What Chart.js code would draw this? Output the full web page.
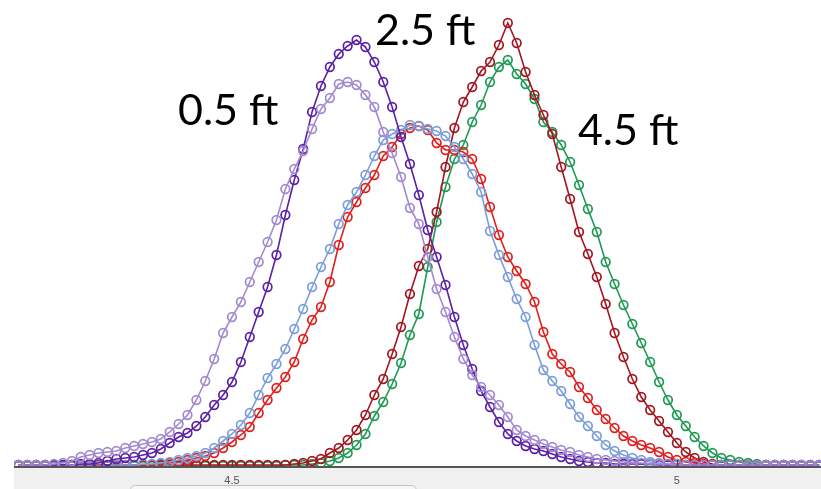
<!DOCTYPE html>
<html>
<head>
<meta charset="utf-8">
<script src="https://cdn.jsdelivr.net/npm/chart.js@4.4.1/dist/chart.umd.min.js"></script>
<style>
  html, body { margin: 0; padding: 0; background: #ffffff; overflow: hidden; }
  #wrap { position: relative; width: 821px; height: 489px; }
</style>
</head>
<body>
<div id="wrap"><canvas id="c"></canvas></div>
<script>
// ---- data ----
const xValues = [4.26,4.27,4.28,4.29,4.30,4.31,4.32,4.33,4.34,4.35,
  4.36,4.37,4.38,4.39,4.40,4.41,4.42,4.43,4.44,4.45,
  4.46,4.47,4.48,4.49,4.50,4.51,4.52,4.53,4.54,4.55,
  4.56,4.57,4.58,4.59,4.60,4.61,4.62,4.63,4.64,4.65,
  4.66,4.67,4.68,4.69,4.70,4.71,4.72,4.73,4.74,4.75,
  4.76,4.77,4.78,4.79,4.80,4.81,4.82,4.83,4.84,4.85,
  4.86,4.87,4.88,4.89,4.90,4.91,4.92,4.93,4.94,4.95,
  4.96,4.97,4.98,4.99,5.00,5.01,5.02,5.03,5.04,5.05,
  5.06,5.07,5.08,5.09,5.10,5.11,5.12,5.13,5.14,5.15,5.16];

const seriesNames = ['0.5 ft (a)', '0.5 ft (b)', '2.5 ft (a)', '2.5 ft (b)', '4.5 ft (a)', '4.5 ft (b)'];

const lavender = [2,2,2,2,3, 4,6,10,12,14, 15,16,19,21,23, 25,28,35,43,52,
  67,86,108,134,150, 165,185,205,225,247, 278,298,316,338,358, 369,383,385,382,372,
  360,335,314,290,259, 243,210,178,155,130, 108,92,80,72,62, 50,37,31,27,23,
  20,17,15,12,10, 8,7,6,5,4, 4,3,3,3,2, 2,2,2,2,2, 2,2,2,2,2, 2,2,2,2,2,2];

const darkPurple = [2,2,2,2,2, 2,2,3,3,4, 6,8,9,10,12, 14,18,24,30,34,
  41,50,62,72,85, 105,130,155,180,212, 252,287,318,355,381, 400,413,421,427,420,
  405,385,360,330,303, 272,237,210,182,150, 122,98,76,60,45, 33,26,21,18,16,
  13,10,8,6,5, 4,4,3,3,3, 3,3,2,2,2, 2,2,2,2,2, 2,2,2,2,2, 2,2,2,2,2,2];

const lightBlue = [1,1,1,1,1, 1,1,1,1,1, 1,2,2,2,3, 3,4,5,7,9,
  11,14,19,26,33, 42,54,72,89,103, 118,138,158,180,200, 218,243,262,275,292,
  311,327,333,337,342, 341,338,336,331,320, 308,293,275,236,212, 190,168,150,122,97,
  86,76,63,50,41, 31,22,16,12,9, 7,5,4,3,3, 2,2,2,2,2, 2,2,1,1,1, 1,1,1,1,1,1];

const red = [1,1,1,1,1, 1,1,1,1,1, 1,1,1,2,2, 2,3,4,5,7,
  9,11,14,19,25, 32,40,54,67,79, 90,105,128,147,160, 185,222,250,265,279,
  292,311,320,333,339, 341,337,324,317,317, 315,308,288,260,232, 210,196,183,165,135,
  113,103,95,80,69, 57,48,39,31,26, 22,19,15,10,7, 5,4,3,2,2, 2,2,1,1,1, 1,1,1,1,1,1];

const darkRed = [2,2,2,2,2, 2,2,2,2,2, 2,2,2,2,2, 2,2,2,2,2,
  2,2,2,2,2, 2,2,2,2,2, 2,3,4,6,8, 14,19,27,37,52,
  72,88,113,140,173, 201,218,255,300,339, 365,380,396,405,422, 444,424,395,372,352,
  333,300,268,235,213, 190,163,134,110,88, 70,57,46,35,24, 15,9,5,3,2, 2,2,2,2,2, 2,2,2,2,2,2];

const green = [1,1,1,1,1, 1,1,1,1,1, 1,1,1,1,1, 1,1,1,1,1,
  1,1,1,1,1, 1,1,1,1,1, 2,2,2,3,4, 6,9,14,22,33,
  51,65,83,104,132, 153,200,245,280,308, 322,345,362,385,400, 407,393,383,368,345,
  335,322,305,282,258, 235,205,183,162,143, 124,105,85,67,52, 41,30,21,14,9,
  7,5,4,3,2, 2,2,1,1,1,1];

const tickValues = [4.5, 5];
const tickLabels = ['4.5', '5'];

const annotations = [
  { text: '0.5 ft', x: 4.4393, y: 342 },
  { text: '2.5 ft', x: 4.6607, y: 422 },
  { text: '4.5 ft', x: 4.8888, y: 322 }
];

// ---- chart ----
const seriesValues = [lavender, darkPurple, lightBlue, red, darkRed, green];
const seriesColors = ['#a38ad0', '#5a22a6', '#7b9edb', '#e0201e', '#a3161f', '#1f9a55'];

function toPoints(arr) { return arr.map((v, i) => ({ x: xValues[i], y: v })); }

const datasets = seriesValues.map((vals, k) => ({
  label: seriesNames[k],
  data: toPoints(vals),
  borderColor: seriesColors[k],
  backgroundColor: 'rgba(0,0,0,0)',
  pointBorderColor: seriesColors[k],
  pointBackgroundColor: 'rgba(0,0,0,0)',
  borderWidth: 1.6,
  pointRadius: 4.3,
  pointBorderWidth: 1.7,
  tension: 0
}));

const decor = {
  id: 'decor',
  beforeDraw(chart) {
    const { ctx, chartArea, width, height } = chart;
    ctx.save();
    ctx.fillStyle = '#ffffff';
    ctx.fillRect(0, 0, width, height);
    ctx.fillStyle = '#f0f0f0';
    ctx.fillRect(chartArea.left, chartArea.bottom, width - chartArea.left, height - chartArea.bottom);
    // scrollbar-like rounded box
    const sx = chart.scales.x;
    const x0 = sx.getPixelForValue(4.386), x1 = sx.getPixelForValue(4.707);
    const y0 = chartArea.bottom + 18.5;
    ctx.beginPath();
    ctx.moveTo(x0, height + 5);
    ctx.lineTo(x0, y0 + 5);
    ctx.quadraticCurveTo(x0, y0, x0 + 5, y0);
    ctx.lineTo(x1 - 5, y0);
    ctx.quadraticCurveTo(x1, y0, x1, y0 + 5);
    ctx.lineTo(x1, height + 5);
    ctx.fillStyle = '#f7f7f7';
    ctx.fill();
    ctx.strokeStyle = '#c4c4c4';
    ctx.lineWidth = 1;
    ctx.stroke();
    ctx.restore();
  },
  afterDatasetsDraw(chart) {
    const { ctx, chartArea } = chart;
    const sx = chart.scales.x, sy = chart.scales.y;
    ctx.save();
    // axis line
    ctx.strokeStyle = '#555555';
    ctx.lineWidth = 2;
    ctx.beginPath();
    ctx.moveTo(chartArea.left, chartArea.bottom);
    ctx.lineTo(chartArea.right, chartArea.bottom);
    ctx.stroke();
    // tick marks pointing up
    ctx.lineWidth = 1.5;
    ctx.strokeStyle = '#444444';
    tickValues.forEach(v => {
      const px = Math.round(sx.getPixelForValue(v)) + 0.5;
      ctx.beginPath();
      ctx.moveTo(px, chartArea.bottom - 7);
      ctx.lineTo(px, chartArea.bottom);
      ctx.stroke();
    });
    // annotations
    ctx.fillStyle = '#000000';
    ctx.font = '43px Lato, "Noto Sans", sans-serif';
    ctx.textAlign = 'left';
    ctx.textBaseline = 'alphabetic';
    annotations.forEach(a => {
      ctx.fillText(a.text, sx.getPixelForValue(a.x), sy.getPixelForValue(a.y));
    });
    ctx.restore();
  }
};

new Chart(document.getElementById('c'), {
  type: 'line',
  data: { datasets },
  options: {
    responsive: true,
    maintainAspectRatio: false,
    animation: false,
    events: [],
    layout: { autoPadding: false, padding: { left: 14, right: 0, top: 5, bottom: 0 } },
    plugins: { legend: { display: false }, tooltip: { enabled: false } },
    scales: {
      x: {
        type: 'linear',
        min: 4.255,
        max: 5.162,
        grid: { display: false, drawTicks: false },
        border: { display: false },
        afterBuildTicks(scale) { scale.ticks = tickValues.map(v => ({ value: v })); },
        afterFit(scale) { scale.height = 22; },
        ticks: {
          autoSkip: false,
          maxRotation: 0,
          padding: 7,
          color: '#555555',
          font: { family: '"Liberation Sans", Arial, sans-serif', size: 11 },
          callback(value) {
            const i = tickValues.indexOf(value);
            return i >= 0 ? tickLabels[i] : '';
          }
        }
      },
      y: {
        display: false,
        min: 0,
        max: 462
      }
    }
  },
  plugins: [decor]
});
</script>
</body>
</html>
